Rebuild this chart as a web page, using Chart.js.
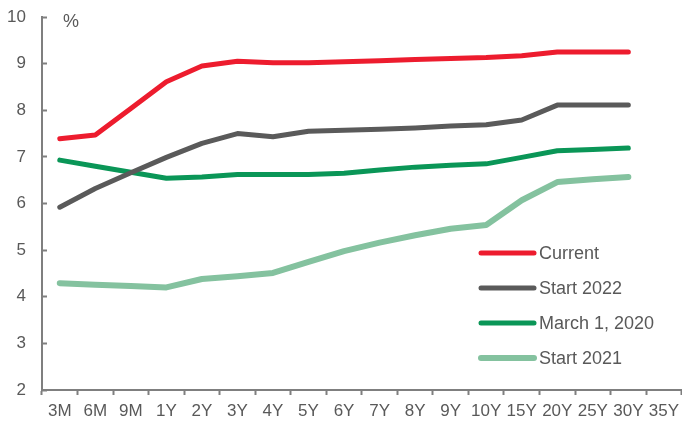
<!DOCTYPE html>
<html>
<head>
<meta charset="utf-8">
<script src="https://cdn.jsdelivr.net/npm/chart.js@4"></script>
<style>
  html, body { margin: 0; padding: 0; background: #fff; overflow: hidden; }
  #wrap { position: relative; width: 685px; height: 423px; }
</style>
</head>
<body>
<div id="wrap"><canvas id="yieldChart"></canvas></div>
<script>
// maturities along the curve
var tenors = ['3M', '6M', '9M', '1Y', '2Y', '3Y', '4Y', '5Y', '6Y', '7Y', '8Y', '9Y', '10Y', '15Y', '20Y', '25Y', '30Y', '35Y']

// yields in %, one array per curve (no 35Y point)
var current    = [7.39, 7.47, 8.04, 8.61, 8.95, 9.05, 9.02, 9.02, 9.04, 9.06, 9.09, 9.11, 9.13, 9.17, 9.25, 9.25, 9.25, null]
var start2022  = [5.92, 6.32, 6.66, 6.99, 7.29, 7.50, 7.43, 7.55, 7.57, 7.59, 7.62, 7.66, 7.69, 7.79, 8.11, 8.11, 8.11, null]
var march2020  = [6.93, 6.80, 6.67, 6.54, 6.57, 6.62, 6.62, 6.62, 6.65, 6.72, 6.78, 6.82, 6.85, 6.99, 7.13, 7.16, 7.19, null]
var start2021  = [4.29, 4.26, 4.23, 4.20, 4.38, 4.44, 4.51, 4.75, 4.98, 5.16, 5.32, 5.46, 5.54, 6.07, 6.46, 6.52, 6.57, null]

var yTicks = [2, 3, 4, 5, 6, 7, 8, 9, 10]

var textColor = '#595959'
var axisColor = '#7f7f7f'
var fontFamily = '"Liberation Sans", Arial, sans-serif'

function series(label, data, color, width) {
    return {
        label: label,
        data: data,
        borderColor: color,
        backgroundColor: color,
        borderWidth: width,
        pointRadius: 0,
        tension: 0,
        borderCapStyle: 'round',
        borderJoinStyle: 'round'
    }
}

// legend sits inside the plot, bottom right, plus the "%" unit label
var insideLegend = {
    id: 'insideLegend',
    afterDraw: function(chart) {
        var c = chart.ctx
        c.save()
        c.font = '18px ' + fontFamily
        c.fillStyle = textColor
        c.textBaseline = 'middle'
        c.textAlign = 'left'
        c.fillText('%', 63, 22)

        var x0 = 481, x1 = 534, y = 253
        chart.data.datasets.forEach(function(ds) {
            c.strokeStyle = ds.borderColor
            c.lineWidth = ds.borderWidth
            c.lineCap = 'round'
            c.beginPath()
            c.moveTo(x0, y)
            c.lineTo(x1, y)
            c.stroke()
            c.fillStyle = textColor
            c.fillText(ds.label, 539, y + 1)
            y += 35
        })
        c.restore()
    }
}

var ctx = document.getElementById('yieldChart').getContext('2d')

var chart = new Chart(ctx, {
    type: 'line',
    data: {
        labels: tenors,
        datasets: [
            series('Current', current, '#ED1C2E', 5),
            series('Start 2022', start2022, '#5A5A5A', 5),
            series('March 1, 2020', march2020, '#0A9657', 5),
            series('Start 2021', start2021, '#84C29F', 6)
        ]
    },
    options: {
        responsive: true,
        maintainAspectRatio: false,
        animation: false,
        layout: { padding: { top: 17, right: 0, bottom: 0, left: 0 } },
        plugins: {
            legend: { display: false },
            tooltip: { enabled: false }
        },
        scales: {
            x: {
                offset: true,
                grid: {
                    offset: true,
                    drawOnChartArea: false,
                    tickLength: 5,
                    tickWidth: 2,
                    tickColor: axisColor
                },
                border: { color: axisColor, width: 2 },
                ticks: {
                    autoSkip: false,
                    maxRotation: 0,
                    padding: 6,
                    color: textColor,
                    font: { family: fontFamily, size: 17 }
                },
                afterFit: function(s) { s.height = 33 }
            },
            y: {
                min: 2,
                max: 10,
                grid: {
                    drawOnChartArea: false,
                    tickLength: -5,
                    tickWidth: 2,
                    tickColor: axisColor
                },
                border: { color: axisColor, width: 2 },
                afterBuildTicks: function(s) {
                    s.ticks = yTicks.map(function(v) { return { value: v } })
                },
                ticks: {
                    padding: 21,
                    color: textColor,
                    font: { family: fontFamily, size: 17 }
                },
                // the big label gap shouldn't push the plot down
                afterFit: function(s) {
                    s.width = 42
                    s.paddingTop = 10
                    s.paddingBottom = 10
                }
            }
        }
    },
    plugins: [insideLegend]
})
</script>
</body>
</html>
